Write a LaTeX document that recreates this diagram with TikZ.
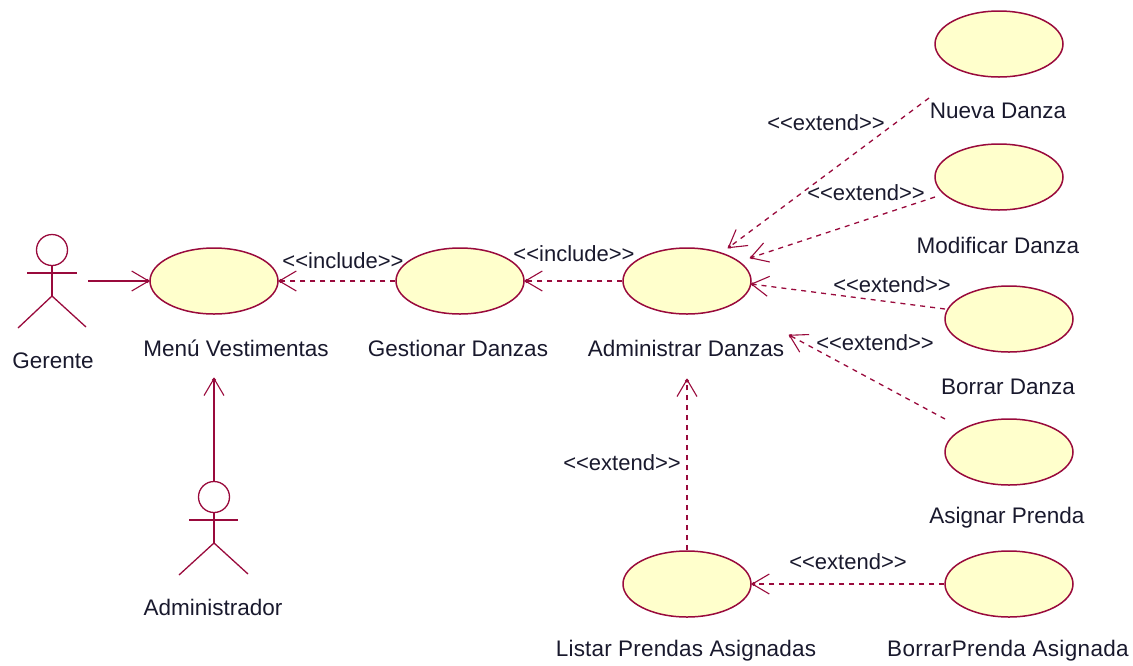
\documentclass[tikz,border=0pt]{standalone}
\usepackage{fontspec}
\setmainfont{Liberation Sans}
\usetikzlibrary{arrows.meta,shapes.geometric}
\definecolor{umlline}{RGB}{153,10,60}
\definecolor{umlfill}{RGB}{255,255,204}
\definecolor{umltext}{RGB}{25,25,45}
\tikzset{
  x=1pt,y=-1pt,
  usecase/.style={ellipse,draw=umlline,fill=umlfill,line width=1.5pt,minimum width=128pt,minimum height=66pt,inner sep=0pt},
  caselabel/.style={text=umltext,font=\fontsize{22.5}{26}\selectfont,inner sep=0pt},
  stereo/.style={text=umltext,font=\fontsize{22}{26}\selectfont,inner sep=0pt},
  stick/.style={draw=umlline,line width=1.3pt},
  umlhead/.style={-{Straight Barb[length=17pt,width=20pt,line width=1.1pt,sep=-4pt]Circle[length=3.5pt]},umlline,line width=1.3pt},
  assoc/.style={umlhead},
  dep/.style={umlhead,dash pattern=on 5pt off 5pt},
  headcircle/.style={circle,draw=umlline,line width=1.3pt,minimum size=31pt,inner sep=0pt},
}
\newcommand{\inc}{<{}<include>{}>}
\newcommand{\ext}{<{}<extend>{}>}
\begin{document}
\begin{tikzpicture}
\useasboundingbox (0,0) rectangle (1133,665);
% use cases
\node[usecase] (menu) at (214,281) {};
\node[usecase] (gest) at (460,281) {};
\node[usecase] (admin) at (687,281) {};
\node[usecase] (nueva) at (999,44) {};
\node[usecase] (modif) at (999,177) {};
\node[usecase] (borrar) at (1009,319) {};
\node[usecase] (asign) at (1009,452) {};
\node[usecase] (listar) at (687,584) {};
\node[usecase] (borrarp) at (1009,584) {};
% labels
\node[caselabel] (lgerente) at (53,361) {Gerente};
\node[caselabel] (lmenu) at (236,348) {Menú Vestimentas};
\node[caselabel] (lgest) at (458,348) {Gestionar Danzas};
\node[caselabel] (ladmin) at (686,348) {Administrar Danzas};
\node[caselabel] (lnueva) at (998,111) {Nueva Danza};
\node[caselabel] (lmodif) at (998,245) {Modificar Danza};
\node[caselabel] (lborrar) at (1008,387) {Borrar Danza};
\node[caselabel] (lasign) at (1007,518) {Asignar Prenda};
\node[caselabel] (llistar) at (686,651) {\addfontfeature{LetterSpace=0.8}Listar Prendas Asignadas};
\node[caselabel] (lborrarp) at (1008,651) {\addfontfeature{LetterSpace=1.5}BorrarPrenda Asignada};
\node[caselabel] (ladminis) at (213,607) {Administrador};
% actors
\node[headcircle] (h1) at (52,250) {};
\coordinate (n1) at (52,296);
\draw[stick] (h1.south) -- (n1);
\draw[stick] (27,273) -- (77,273);
\draw[stick] (18,328) -- (n1) -- (86,327);
\node[headcircle] (h2) at (214,497) {};
\coordinate (n2) at (214,543);
\draw[stick] (h2.south) -- (n2);
\draw[stick] (189,520) -- (238,520);
\draw[stick] (179,575) -- (n2) -- (248,574);
% connector free ends
\coordinate (gfrom) at (88,281);
\coordinate (afrom) at (214,481);
\coordinate (ato) at (214,378);
\coordinate (nfrom) at (929,98);
\coordinate (nto) at (728,248);
\coordinate (mfrom) at (935,197);
\coordinate (mto) at (750,258);
\coordinate (bfrom) at (945,309);
\coordinate (bto) at (751,284);
\coordinate (asfrom) at (945,419);
\coordinate (asto) at (789,335);
\coordinate (lto) at (687,379);
% connectors
\draw[assoc] (gfrom) -- (menu.west);
\draw[assoc] (afrom) -- (ato);
\draw[dep] (gest.west) -- (menu.east);
\draw[dep] (admin.west) -- (gest.east);
\draw[dep] (nfrom) -- (nto);
\draw[dep] (mfrom) -- (mto);
\draw[dep] (bfrom) -- (bto);
\draw[dep] (asfrom) -- (asto);
\draw[dep] (listar.north) -- (lto);
\draw[dep] (borrarp.west) -- (listar.east);
% stereotypes
\node[stereo] (s1) at (343,261) {\inc};
\node[stereo] (s2) at (574,254) {\inc};
\node[stereo] (s3) at (826,123) {\ext};
\node[stereo] (s4) at (866,193) {\ext};
\node[stereo] (s5) at (892,285) {\ext};
\node[stereo] (s6) at (875,343) {\ext};
\node[stereo] (s7) at (622,463) {\ext};
\node[stereo] (s8) at (848,562) {\ext};
\end{tikzpicture}
\end{document}
